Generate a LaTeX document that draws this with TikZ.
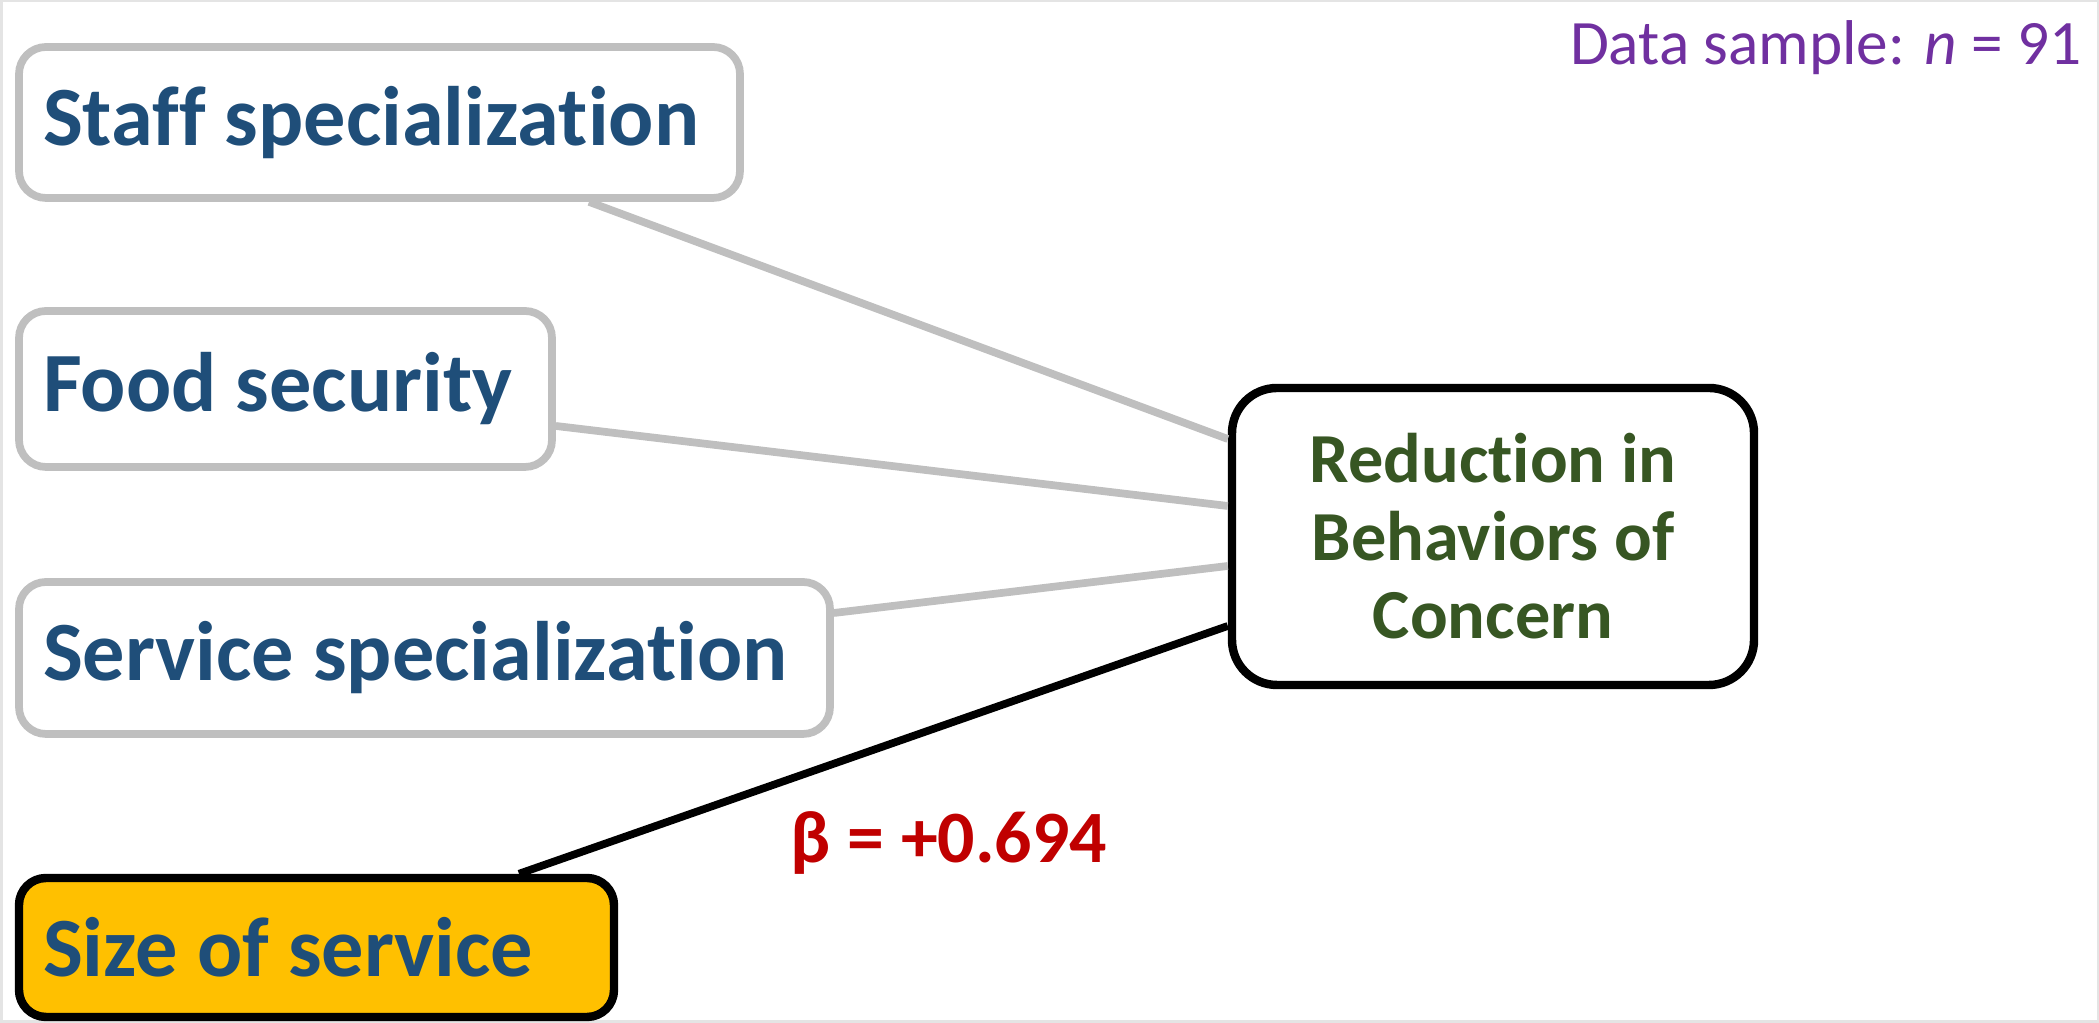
\documentclass[tikz,border=0pt]{standalone}
\usepackage{fontspec}
\setmainfont[Ligatures=NoCommon]{Carlito}
\usepackage{xcolor}
\usepackage{tikz}
\usetikzlibrary{positioning, calc}
\definecolor{factorblue}{HTML}{1F4E79}
\definecolor{outcomegreen}{HTML}{375623}
\definecolor{boxgrey}{HTML}{BFBFBF}
\definecolor{framegrey}{HTML}{E4E4E4}
\definecolor{sizeyellow}{HTML}{FFC000}
\definecolor{betared}{HTML}{C00000}
\definecolor{samplepurple}{HTML}{7030A0}

\begin{document}
\begin{tikzpicture}[
    factor/.style={draw=boxgrey, line width=2.2pt, fill=white, rounded corners=0.27cm,
          inner xsep=0.24cm, inner ysep=0pt, align=flush left, text=factorblue,
          font=\bfseries\fontsize{24}{28}\selectfont},
    outcome/.style={draw=black, line width=2.4pt, fill=white, rounded corners=0.45cm,
          align=flush center, text=outcomegreen, minimum width=5.22cm, minimum height=2.97cm,
          font=\bfseries\fontsize{20}{22.2}\selectfont},
    weak/.style={draw=boxgrey, line width=2.2pt},
    strong/.style={draw=black, line width=2.2pt}]
    \useasboundingbox (0,0) rectangle (20.99,10.23);
    \draw[framegrey, line width=0.05cm] (0,0) rectangle (20.99,10.23);
    \node[factor, text width=6.73cm, minimum height=1.51cm] (staff) at (3.795,9.005) {Staff specialization};
    \node[factor, text width=4.85cm, minimum height=1.56cm] (food) at (2.855,6.34) {Food security};
    \node[factor, text width=7.63cm, minimum height=1.52cm] (service) at (4.245,3.65) {Service specialization};
    \node[factor, fill=sizeyellow, draw=black, line width=2.4pt, text width=5.47cm, minimum height=1.39cm]
          (size) at (3.165,0.755) {Size of service};
    \node[outcome] (behav) at (14.93,4.865) {Reduction in\\Behaviors of\\Concern};
    \draw[weak] ([xshift=2.095cm]staff.south) -- ([yshift=0.975cm]behav.west);
    \draw[weak] ([yshift=-0.37cm]food.east) -- ([yshift=0.305cm]behav.west);
    \draw[weak] ([yshift=0.45cm]service.east) -- ([yshift=-0.295cm]behav.west);
    \draw[strong] ([xshift=2.025cm]size.north) -- ([yshift=-0.895cm]behav.west);
    \node[text=betared, font=\bfseries\fontsize{21}{25}\selectfont] (beta) at (9.49,1.8) {β = +0.694};
    \node[anchor=east, inner sep=0pt, text=samplepurple, font=\fontsize{18}{22}\selectfont] (sample) at (20.82,9.75)
          {Data sample: \textit{n} = 91};
\end{tikzpicture}
\end{document}
